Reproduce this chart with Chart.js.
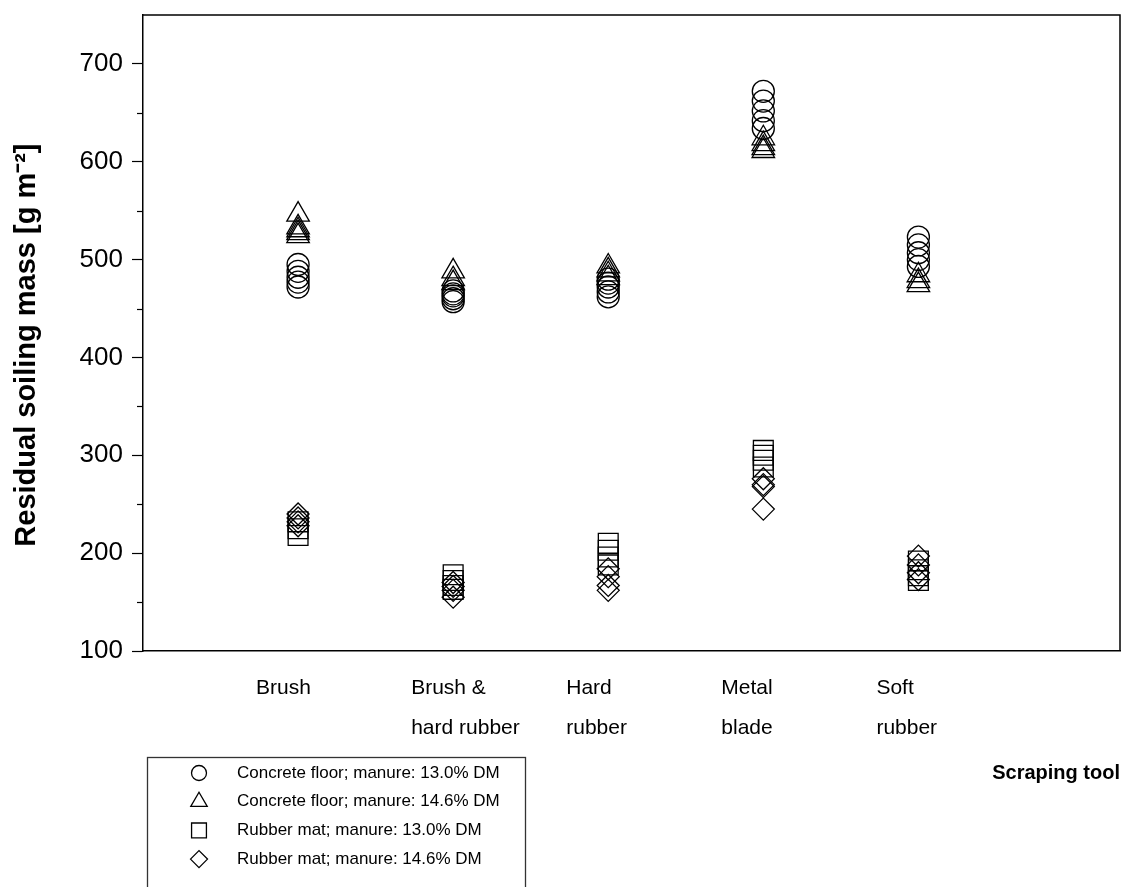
<!DOCTYPE html>
<html>
<head>
<meta charset="utf-8">
<script src="https://cdn.jsdelivr.net/npm/chart.js@4/dist/chart.umd.min.js"></script>
<style>
  html, body { margin: 0; padding: 0; background: #fff; }
  #soilChart { display: block; }
</style>
</head>
<body>
<canvas id="soilChart" width="1124" height="887"></canvas>
<script>
const categories = ['Brush', ['Brush &', 'hard rubber'], ['Hard', 'rubber'], ['Metal', 'blade'], ['Soft', 'rubber']];
const seriesNames = [
    'Concrete floor; manure: 13.0% DM',
    'Concrete floor; manure: 14.6% DM',
    'Rubber mat; manure: 13.0% DM',
    'Rubber mat; manure: 14.6% DM'
];

// replicate values per scraping tool, same order as categories
const concrete130 = [[495, 488, 482, 477, 472], [468, 465, 463, 460, 457], [480, 476, 472, 467, 462], [672, 662, 652, 642, 634], [523, 515, 507, 500, 493]];
const concrete146 = [[546, 533, 530, 527, 524], [488, 480, 476], [493, 489, 485, 481], [624, 618, 614, 611], [484, 478, 474]];
const rubber130 = [[232, 225, 218], [178, 172, 167, 163], [210, 203, 196, 188], [305, 300, 295, 288], [192, 183, 177, 172]];
const rubber146 = [[240, 236, 232, 228], [170, 166, 162, 155], [184, 176, 167, 162], [276, 270, 268, 245], [197, 188, 180, 173]];

const yTicks = [100, 200, 300, 400, 500, 600, 700];
const yMinorTicks = [150, 250, 350, 450, 550, 650];

const FONT = "'Liberation Sans', Arial, sans-serif";

function toPoints(groups) {
    return groups.flatMap((vals, i) => vals.map(v => ({x: i + 1, y: v})));
}

const seriesData = [concrete130, concrete146, rubber130, rubber146];
const styles = [
    {pointStyle: 'circle', radius: 11, legendRadius: 7.5},
    {pointStyle: 'triangle', radius: 13, legendRadius: 9.5},
    {pointStyle: 'rect', radius: 14, legendRadius: 10.5},
    {pointStyle: 'rectRot', radius: 11, legendRadius: 8.5}
];

const datasets = seriesData.map((groups, i) => ({
    label: seriesNames[i],
    data: toPoints(groups),
    pointStyle: styles[i].pointStyle,
    pointRadius: styles[i].radius,
    pointBorderWidth: 1.3,
    pointBorderColor: '#000',
    pointBackgroundColor: 'rgba(0,0,0,0)',
    showLine: false
}));

// frame on top/right, minor ticks on y, boxed legend under the plot
const extrasPlugin = {
    id: 'extras',
    afterDraw(chart) {
        const ctx = chart.ctx;
        const area = chart.chartArea;
        const y = chart.scales.y;
        ctx.save();
        ctx.strokeStyle = '#000';
        ctx.lineWidth = 1.5;
        ctx.beginPath();
        ctx.moveTo(area.left, area.top);
        ctx.lineTo(area.right, area.top);
        ctx.lineTo(area.right, area.bottom);
        ctx.stroke();

        ctx.lineWidth = 1.2;
        yMinorTicks.forEach(v => {
            const py = Math.round(y.getPixelForValue(v)) + 0.5;
            ctx.beginPath();
            ctx.moveTo(area.left - 6, py);
            ctx.lineTo(area.left, py);
            ctx.stroke();
        });

        // legend box
        ctx.strokeStyle = '#333';
        ctx.lineWidth = 1.3;
        ctx.strokeRect(147.5, 757.5, 378, 150);
        ctx.textBaseline = 'middle';
        ctx.textAlign = 'left';
        chart.data.datasets.forEach((ds, i) => {
            const ly = 773 + i * 28.7;
            ctx.strokeStyle = '#000';
            ctx.fillStyle = 'rgba(0,0,0,0)';
            Chart.helpers.drawPoint(ctx, {
                pointStyle: styles[i].pointStyle,
                radius: styles[i].legendRadius,
                borderWidth: 1
            }, 199, ly);
            ctx.font = '17px ' + FONT;
            ctx.fillStyle = '#000';
            ctx.fillText(ds.label, 237, ly);
        });
        ctx.restore();
    }
};

const config = {
    type: 'scatter',
    data: {datasets: datasets},
    options: {
        responsive: false,
        animation: false,
        layout: {autoPadding: false, padding: {top: 15, right: 4, left: 0, bottom: 0}},
        plugins: {
            legend: {display: false},
            tooltip: {enabled: false}
        },
        scales: {
            x: {
                type: 'linear',
                min: 0,
                max: 6.3,
                afterBuildTicks: scale => {
                    scale.ticks = categories.map((c, i) => ({value: i + 1}));
                },
                afterFit: scale => {
                    scale.height = 236;
                    scale.paddingLeft = 0;
                    scale.paddingRight = 0;
                },
                grid: {drawOnChartArea: false, drawTicks: false},
                border: {color: '#000', width: 1.5},
                ticks: {
                    autoSkip: false,
                    maxRotation: 0,
                    align: 'start',
                    labelOffset: -42,
                    padding: 17,
                    color: '#000',
                    font: {family: FONT, size: 21, lineHeight: '40px'},
                    callback: value => categories[value - 1]
                },
                title: {
                    display: true,
                    text: 'Scraping tool',
                    align: 'end',
                    color: '#000',
                    font: {family: FONT, size: 20, weight: 'bold'},
                    padding: {top: 0, bottom: 102}
                }
            },
            y: {
                min: 100,
                max: 750,
                afterBuildTicks: scale => {
                    scale.ticks = yTicks.map(v => ({value: v}));
                },
                afterFit: scale => {
                    scale.width = 143;
                    scale.paddingTop = 0;
                    scale.paddingBottom = 0;
                },
                grid: {drawOnChartArea: false, drawTicks: true, tickLength: 11, color: '#000', tickWidth: 1.2},
                border: {color: '#000', width: 1.5},
                ticks: {
                    padding: 9,
                    color: '#000',
                    font: {family: FONT, size: 26}
                },
                title: {
                    display: true,
                    text: 'Residual soiling mass [g m⁻²]   ',
                    color: '#000',
                    font: {family: FONT, size: 29, weight: 'bold'},
                    padding: {top: 10, bottom: 0}
                }
            }
        }
    },
    plugins: [extrasPlugin]
};

const soilChart = new Chart(document.getElementById('soilChart').getContext('2d'), config);
</script>
</body>
</html>
